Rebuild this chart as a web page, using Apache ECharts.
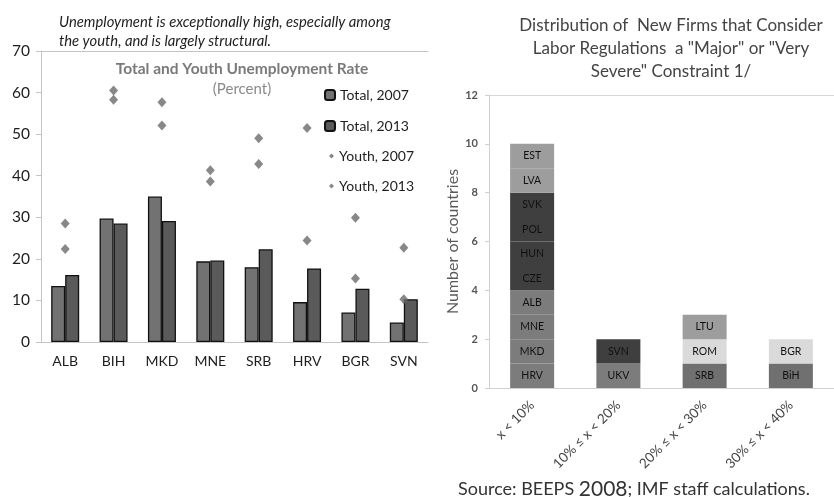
<!DOCTYPE html>
<html>
<head>
<meta charset="utf-8">
<script src="https://cdn.jsdelivr.net/npm/echarts@6/dist/echarts.min.js"></script>
<style>
  html, body { margin: 0; padding: 0; background: #ffffff; }
  #chart { width: 834px; height: 497px; }
</style>
</head>
<body>
<div id="chart"></div>
<script>
// ---- Unemployment panel ----
const countries = ['ALB', 'BIH', 'MKD', 'MNE', 'SRB', 'HRV', 'BGR', 'SVN'];
const total2007 = [13.5, 29.7, 35.0, 19.4, 18.0, 9.6, 7.1, 4.7];
const total2013 = [16.1, 28.5, 29.1, 19.6, 22.3, 17.7, 12.8, 10.3];
const youth2007 = [22.4, 58.3, 57.7, 38.6, 42.8, 24.4, 15.3, 10.3];
const youth2013 = [28.5, 60.5, 52.1, 41.3, 49.0, 51.5, 29.9, 22.7];
const unempTicks = [0, 10, 20, 30, 40, 50, 60, 70];

// ---- Labor regulation panel ----
const bins = ['x < 10%', '10% \u2264 x < 20%', '20% \u2264 x < 30%', '30% \u2264 x < 40%'];
// countries in each bin, listed bottom to top
const binCountries = [
  ['HRV', 'MKD', 'MNE', 'ALB', 'CZE', 'HUN', 'POL', 'SVK', 'LVA', 'EST'],
  ['UKV', 'SVN'],
  ['SRB', 'ROM', 'LTU'],
  ['BiH', 'BGR']
];
const countTicks = [0, 2, 4, 6, 8, 10, 12];

// shading of each country block
const shade = {
  HRV: '#7c7c7c', MKD: '#7c7c7c', MNE: '#7c7c7c', ALB: '#7c7c7c',
  CZE: '#3f3f3f', HUN: '#3f3f3f', POL: '#3f3f3f', SVK: '#3f3f3f',
  LVA: '#9d9d9d', EST: '#9d9d9d',
  UKV: '#7c7c7c', SVN: '#3f3f3f',
  SRB: '#707070', ROM: '#dadada', LTU: '#9d9d9d',
  BiH: '#707070', BGR: '#dadada'
};

const FONT = 'Lato, "Open Sans", sans-serif';
const chart = echarts.init(document.getElementById('chart'), null, { renderer: 'canvas' });

const maxLevels = Math.max(...binCountries.map(c => c.length));
const stackSeries = [];
for (let lvl = 0; lvl < maxLevels; lvl++) {
  stackSeries.push({
    type: 'bar',
    xAxisIndex: 2,
    yAxisIndex: 1,
    stack: 'countries',
    barWidth: 44,
    data: binCountries.map(list => list[lvl]
      ? { value: 1, name: list[lvl], itemStyle: { color: shade[list[lvl]] } }
      : '-'),
    label: {
      show: true,
      position: 'inside',
      formatter: p => p.name,
      fontFamily: FONT,
      fontSize: 10.5,
      color: '#111111',
      textBorderWidth: 0,
      textBorderColor: 'transparent'
    },
    emphasis: { disabled: true },
    silent: true
  });
}

chart.setOption({
  animation: false,
  textStyle: { fontFamily: FONT },
  title: [
    {
      text: 'Unemployment is exceptionally high, especially among\nthe youth, and is largely structural.',
      left: 54, top: 8,
      textStyle: { fontFamily: FONT, fontStyle: 'italic', fontWeight: 'normal', fontSize: 14.8, color: '#1e1e1e', lineHeight: 19 }
    },
    {
      text: 'Total and Youth Unemployment Rate',
      left: 237, top: 56, textAlign: 'center',
      textStyle: { fontFamily: FONT, fontWeight: 'bold', fontSize: 15.5, color: '#7a7a7a' }
    },
    {
      text: '(Percent)',
      left: 237, top: 77, textAlign: 'center',
      textStyle: { fontFamily: FONT, fontWeight: 'normal', fontSize: 15, color: '#8a8a8a' }
    },
    {
      text: 'Distribution of  New Firms that Consider\nLabor Regulations  a "Major" or "Very\nSevere" Constraint 1/',
      left: 666, top: 9, textAlign: 'center',
      textStyle: { fontFamily: FONT, fontWeight: 'normal', fontSize: 17, color: '#444444', lineHeight: 23 }
    },
    {
      text: 'Source: BEEPS {big|2008}; IMF staff calculations.',
      left: 453, top: 474,
      textStyle: {
        fontFamily: FONT, fontWeight: 'normal', fontSize: 18, color: '#333333',
        rich: { big: { fontFamily: FONT, fontSize: 21, color: '#333333' } }
      }
    }
  ],
  legend: [
    {
      data: ['Total, 2007', 'Total, 2013'],
      orient: 'vertical', left: 319, top: 83,
      itemWidth: 10, itemHeight: 10, itemGap: 17,
      textStyle: { fontFamily: FONT, fontSize: 14, color: '#1e1e1e' }
    },
    {
      data: ['Youth, 2007', 'Youth, 2013'],
      orient: 'vertical', left: 324, top: 144,
      icon: 'diamond', itemWidth: 5, itemHeight: 5, itemGap: 16,
      textStyle: { fontFamily: FONT, fontSize: 14, color: '#1e1e1e' }
    }
  ],
  grid: [
    { left: 41, top: 51, width: 387, height: 291 },
    { left: 489, top: 95, width: 361, height: 293 }
  ],
  xAxis: [
    {
      type: 'category', gridIndex: 0, data: countries,
      axisLine: { lineStyle: { color: '#c4c4c4', width: 1 } },
      axisTick: { inside: true, length: 4, lineStyle: { color: '#c4c4c4' } },
      axisLabel: { fontFamily: FONT, fontSize: 14, color: '#1e1e1e', margin: 12 }
    },
    {
      type: 'category', gridIndex: 0, position: 'top', data: countries,
      axisLine: { lineStyle: { color: '#c4c4c4', width: 1 } },
      axisTick: { show: false }, axisLabel: { show: false }
    },
    {
      type: 'category', gridIndex: 1, data: bins,
      axisLine: { lineStyle: { color: '#d0d0d0', width: 1 } },
      axisTick: { length: 4, lineStyle: { color: '#d0d0d0' } },
      axisLabel: { fontFamily: FONT, fontSize: 13.5, color: '#444444', rotate: 45, margin: 15, interval: 0 }
    },
    {
      type: 'category', gridIndex: 1, position: 'top', data: bins,
      axisLine: { lineStyle: { color: '#d8d8d8', width: 1 } },
      axisTick: { show: false }, axisLabel: { show: false }
    }
  ],
  yAxis: [
    {
      type: 'value', gridIndex: 0, min: unempTicks[0], max: unempTicks[unempTicks.length - 1], interval: 10,
      axisLine: { show: true, lineStyle: { color: '#c4c4c4' } },
      axisTick: { show: true, length: 5, lineStyle: { color: '#c4c4c4' } },
      splitLine: { show: false },
      axisLabel: { fontFamily: FONT, fontSize: 15.5, color: '#1e1e1e', margin: 11 }
    },
    {
      type: 'value', gridIndex: 1, min: countTicks[0], max: countTicks[countTicks.length - 1], interval: 2,
      name: 'Number of countries', nameLocation: 'middle', nameGap: 21, nameRotate: 90,
      nameTextStyle: { fontFamily: FONT, fontSize: 16, color: '#5a5a5a' },
      axisLine: { show: true, lineStyle: { color: '#d0d0d0' } },
      axisTick: { show: true, length: 4, lineStyle: { color: '#d0d0d0' } },
      splitLine: { show: false },
      axisLabel: { fontFamily: FONT, fontSize: 11, fontWeight: 'bold', color: '#555555', margin: 11 }
    }
  ],
  series: [
    {
      name: 'Total, 2007', type: 'bar', xAxisIndex: 0, yAxisIndex: 0,
      data: total2007, barWidth: 14, barGap: '0%',
      itemStyle: { color: '#727272', borderColor: '#111111', borderWidth: 1.3 },
      silent: true
    },
    {
      name: 'Total, 2013', type: 'bar', xAxisIndex: 0, yAxisIndex: 0,
      data: total2013, barWidth: 14, barGap: '0%',
      itemStyle: { color: '#5a5a5a', borderColor: '#111111', borderWidth: 1.3 },
      silent: true
    },
    {
      name: 'Youth, 2007', type: 'scatter', xAxisIndex: 0, yAxisIndex: 0,
      data: youth2007, symbol: 'diamond', symbolSize: [9, 10],
      itemStyle: { color: '#6a6a6a' }, silent: true, z: 5
    },
    {
      name: 'Youth, 2013', type: 'scatter', xAxisIndex: 0, yAxisIndex: 0,
      data: youth2013, symbol: 'diamond', symbolSize: [9, 10],
      itemStyle: { color: '#6a6a6a' }, silent: true, z: 5
    },
    ...stackSeries
  ]
});
</script>
</body>
</html>
